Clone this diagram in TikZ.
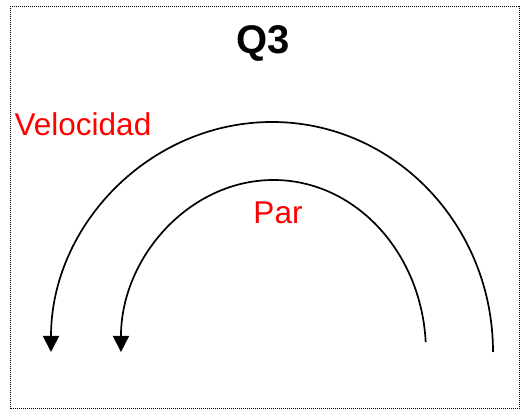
\documentclass[tikz,border=0pt]{standalone}
\usepackage{fontspec}
\setmainfont{Liberation Sans}
\usetikzlibrary{arrows.meta}
\tikzset{
  frame/.style={draw, line width=1pt, dash pattern=on 1pt off 1pt},
  arcline/.style={draw, line width=1.7pt, -{Triangle[width=16pt,length=16pt]}},
  redlabel/.style={text=red, font=\fontsize{31.5}{34}\selectfont, inner sep=0pt},
  titlelabel/.style={font=\fontsize{40}{44}\selectfont\bfseries, inner sep=0pt}
}
\begin{document}
\begin{tikzpicture}[x=1pt,y=1pt]
\useasboundingbox (0,0) rectangle (528,414);
\path[frame] (10,5) rectangle (519,407);
\node[titlelabel] (title) at (263,371) {Q3};
\node[redlabel] (vel) at (83,290) {Velocidad};
\node[redlabel] (par) at (278,201) {Par};
\coordinate (outerR) at (493,62);
\coordinate (innerR) at (425.7,71.9);
\path[arcline] (outerR) arc[start angle=0, end angle=180, x radius=221, y radius=230];
\path[arcline] (innerR) arc[start angle=3.3, end angle=180, x radius=152.5, y radius=172];
\end{tikzpicture}
\end{document}
